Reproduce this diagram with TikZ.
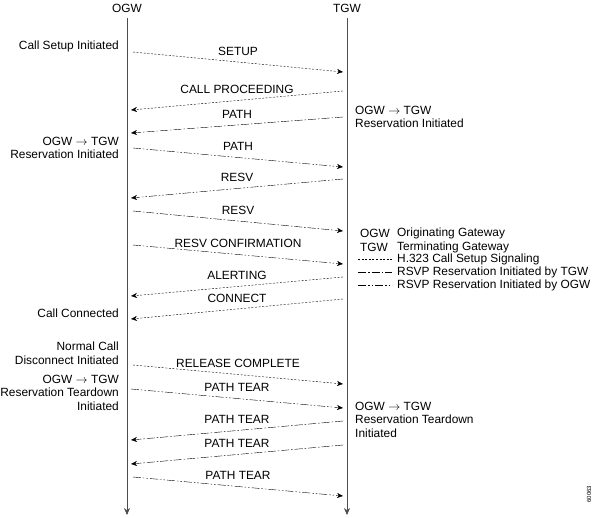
\documentclass[tikz,border=0pt]{standalone}
\usepackage{fontspec}
\setmainfont{Liberation Sans}
\usetikzlibrary{arrows.meta}
\tikzset{
  txt/.style={font=\fontsize{11.9}{13.4}\selectfont, inner sep=0pt},
  msg/.style={thin, -{Stealth[length=6pt,width=5pt]}},
  hsig/.style={msg, dash pattern=on 2pt off 1.6pt},
  rtgw/.style={msg, dash pattern=on 8pt off 2pt on 1.5pt off 2pt},
  rogw/.style={msg, dash pattern=on 8pt off 2pt on 1.5pt off 2pt on 1.5pt off 2pt},
  life/.style={semithick, black!70, -{Stealth[length=7pt,width=6pt]}},
  note/.style={txt, align=left, anchor=north west},
  lnote/.style={txt, align=right, anchor=north east},
}
\begin{document}
\begin{tikzpicture}[x=1pt, y=-1pt, line join=round]
\useasboundingbox (0,0) rectangle (594,517);
\path (127,18) coordinate (O) (347,18) coordinate (T)
      (127,515) coordinate (Oe) (347,515) coordinate (Te);
\node[txt] (ogw) at (127,8) {OGW};
\node[txt] (tgw) at (347,8) {TGW};
\draw[life] (O)--(Oe);
\draw[life] (T)--(Te);
% messages: number/start x/start y/end x/end y/style/label
\foreach \n/\xa/\ya/\xb/\yb/\s/\t in {
    1/133/52/343/72/hsig/SETUP,
    2/343/91/131/110/hsig/CALL PROCEEDING,
    3/343/117/131/133/rtgw/PATH,
    4/133/148/343/167/rogw/PATH,
    5/343/179/131/198/rogw/RESV,
    6/133/211/343/231/rtgw/RESV,
    7/133/245/343/264/rogw/RESV CONFIRMATION,
    8/343/277/131/296/hsig/ALERTING,
    9/343/299/131/319/hsig/CONNECT,
    10/133/365/343/384/hsig/RELEASE COMPLETE,
    11/131/389/343/408/rogw/PATH TEAR,
    12/343/421/131/440/rtgw/PATH TEAR,
    13/343/445/131/464/rtgw/PATH TEAR,
    14/133/477/343/496/rogw/PATH TEAR}
  {\path (\xa,\ya) coordinate (m\n a) (\xb,\yb) coordinate (m\n b);
   \draw[\s] (m\n a)--(m\n b) node[txt, midway, above=6.5pt] (l\n) {\t};}
% notes left of OGW
\node[lnote] (n1) at (119,41) {Call Setup Initiated};
\node[lnote] (n2) at (119,137) {OGW $\rightarrow$ TGW\\Reservation Initiated};
\node[lnote] (n3) at (119,309) {Call Connected};
\node[lnote] (n4) at (119,342) {Normal Call\\Disconnect Initiated};
\node[lnote] (n5) at (119,375) {OGW $\rightarrow$ TGW\\Reservation Teardown\\Initiated};
% notes right of TGW
\node[note] (n6) at (355,106) {OGW $\rightarrow$ TGW\\Reservation Initiated};
\node[note] (n7) at (355,402) {OGW $\rightarrow$ TGW\\Reservation Teardown\\Initiated};
% legend
\node[txt, anchor=west] (k1) at (360,233) {OGW};
\node[txt, anchor=west] (k1t) at (397,233) {Originating Gateway};
\node[txt, anchor=west] (k2) at (360,247) {TGW};
\node[txt, anchor=west] (k2t) at (397,247) {Terminating Gateway};
\node[txt, anchor=west] (k3t) at (397,259) {H.323 Call Setup Signaling};
\node[txt, anchor=west] (k4t) at (397,272) {RSVP Reservation Initiated by TGW};
\node[txt, anchor=west] (k5t) at (397,285) {RSVP Reservation Initiated by OGW};
\foreach \k/\s in {3/hsig, 4/rtgw, 5/rogw}
  {\coordinate (k\k a) at (358,0 |- k\k t.west);
   \coordinate (k\k b) at ([xshift=-5pt]k\k t.west);
   \draw[\s, -] (k\k a)--(k\k b);}
\node[font=\fontsize{6}{7}\selectfont, rotate=90, inner sep=0pt] (id) at (589,494) {60063};
\end{tikzpicture}
\end{document}
